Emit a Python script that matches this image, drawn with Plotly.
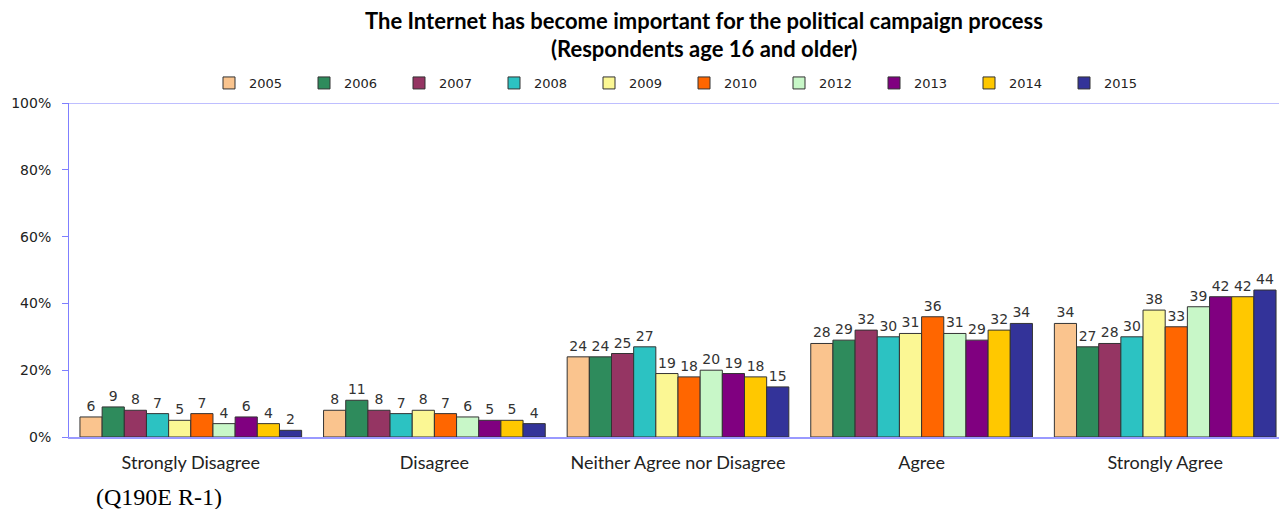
import plotly.graph_objects as go

categories = ["Strongly Disagree", "Disagree", "Neither Agree nor Disagree", "Agree", "Strongly Agree"]
years = ["2005", "2006", "2007", "2008", "2009", "2010", "2012", "2013", "2014", "2015"]
v2005 = [6, 8, 24, 28, 34]
v2006 = [9, 11, 24, 29, 27]
v2007 = [8, 8, 25, 32, 28]
v2008 = [7, 7, 27, 30, 30]
v2009 = [5, 8, 19, 31, 38]
v2010 = [7, 7, 18, 36, 33]
v2012 = [4, 6, 20, 31, 39]
v2013 = [6, 5, 19, 29, 42]
v2014 = [4, 5, 18, 32, 42]
v2015 = [2, 4, 15, 34, 44]
series = [v2005, v2006, v2007, v2008, v2009, v2010, v2012, v2013, v2014, v2015]
colors = ["#FAC48E", "#2E8B5C", "#953563", "#2CC2C2", "#FBF794", "#FF6600",
          "#C8F7C8", "#800080", "#FFC800", "#333399"]
y_ticks = [0, 20, 40, 60, 80, 100]
y_tick_text = ["0%", "20%", "40%", "60%", "80%", "100%"]
title_line1 = "The Internet has become important for the political campaign process"
title_line2 = "(Respondents age 16 and older)"
footnote = "(Q190E R-1)"

# page body has an 8px margin; plot area in viewport: x 69..1287, y 103..437
PL, PT, PB, PR = 69, 103, 437, 1287
def py(v):
    return (PB - v) / (PB - PT)
def px(v):
    return (v - PL) / (PR - PL)

fig = go.Figure()
for yr, vals, col in zip(years, series, colors):
    fig.add_trace(go.Bar(
        name=yr, x=categories, y=vals,
        marker=dict(color=col, line=dict(color="#333333", width=1)),
        text=[str(v) for v in vals], textposition="outside",
        textfont=dict(family="DejaVu Sans", size=14, color="#333333"),
        cliponaxis=False,
    ))

fig.update_layout(
    width=1279, height=501,
    paper_bgcolor="white", plot_bgcolor="white",
    margin=dict(l=61, r=0, t=95, b=72, autoexpand=False),
    barmode="group", bargap=0.09, bargroupgap=0,
    legend=dict(
        orientation="h", x=px(209), xanchor="left", y=py(83), yanchor="middle",
        font=dict(family="DejaVu Sans", size=13, color="#222222"),
        entrywidth=50, entrywidthmode="pixels",
        itemwidth=30, traceorder="normal",
    ),
    showlegend=True,
)
fig.update_yaxes(
    range=[0, 100], tickmode="array", tickvals=y_ticks, ticktext=y_tick_text,
    showgrid=False, zeroline=False,
    showline=True, linecolor="#7F7FFF", linewidth=1,
    ticks="outside", ticklen=6, tickcolor="#7F7FFF", ticklabelstandoff=8,
    tickfont=dict(family="DejaVu Sans", size=14, color="#222222"),
)
fig.update_xaxes(
    showline=True, linecolor="#9A9AFF", linewidth=2,
    ticks="", showgrid=False, ticklabelstandoff=8,
    tickfont=dict(family="Lato", size=18, color="#222222"),
)
fig.add_shape(type="line", xref="paper", yref="y", x0=0, x1=1, y0=100, y1=100,
              line=dict(color="#7F7FFF", width=1))
for txt, yy in [(title_line1, 20), (title_line2, 49)]:
    fig.add_annotation(
        text="<b>" + txt + "</b>", xref="paper", yref="paper",
        x=px(704), xanchor="center", y=py(yy), yanchor="middle", showarrow=False,
        font=dict(family="Lato", size=22, color="black"),
    )
fig.add_annotation(text=footnote, xref="paper", yref="paper",
                   x=px(94), xanchor="left", y=py(497), yanchor="middle",
                   showarrow=False,
                   font=dict(family="Liberation Serif", size=24, color="black"))
fig.write_html("out.html")
